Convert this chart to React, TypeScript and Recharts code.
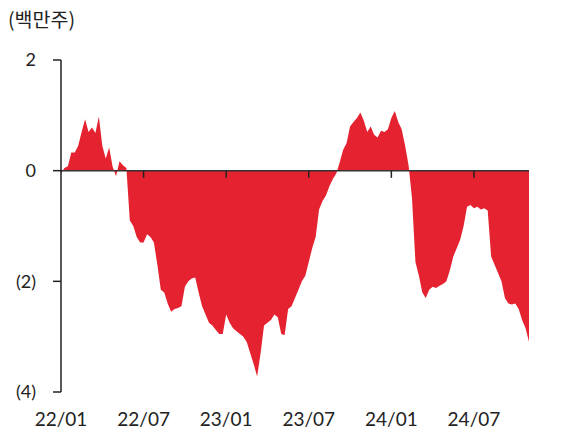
import React from "react";
import { AreaChart, Area, XAxis, YAxis, ReferenceLine } from "recharts";

// weekly net position, millions of shares, from 22/01
const weeklyValues = [
  -0.05, 0.05, 0.08, 0.33, 0.33, 0.45, 0.7, 0.93, 0.7, 0.78,
  0.68, 0.98, 0.45, 0.22, 0.42, 0.07, -0.1, 0.17, 0.1, 0.05,
  -0.9, -1.0, -1.2, -1.3, -1.3, -1.15, -1.2, -1.3, -1.7, -2.15,
  -2.2, -2.4, -2.55, -2.5, -2.48, -2.45, -2.1, -2.0, -1.95, -1.93,
  -2.2, -2.45, -2.6, -2.75, -2.8, -2.88, -2.95, -2.95, -2.6, -2.75,
  -2.85, -2.9, -2.95, -3.0, -3.1, -3.3, -3.5, -3.72, -3.3, -2.8,
  -2.75, -2.7, -2.6, -2.65, -2.95, -2.97, -2.5, -2.45, -2.3, -2.15,
  -2.0, -1.9, -1.65, -1.4, -1.2, -0.7, -0.55, -0.45, -0.28, -0.15,
  -0.05, 0.15, 0.38, 0.5, 0.8, 0.88, 0.95, 1.05, 0.9, 0.7,
  0.8, 0.65, 0.6, 0.72, 0.7, 0.75, 0.95, 1.08, 0.88, 0.75,
  0.45, 0.1, -0.5, -1.65, -1.9, -2.2, -2.3, -2.15, -2.1, -2.12,
  -2.08, -2.05, -2.0, -1.8, -1.55, -1.4, -1.25, -1.0, -0.65, -0.62,
  -0.68, -0.65, -0.7, -0.68, -0.72, -1.55, -1.7, -1.85, -2.0, -2.3,
  -2.4, -2.42, -2.4, -2.5, -2.7, -2.85, -3.09,
];

const monthsPerWeek = 0.25;
const xTicks = [0, 6, 12, 18, 24, 30];
const xTickLabels = ["22/01", "22/07", "23/01", "23/07", "24/01", "24/07"];
const yTicks = [2, 0, -2, -4];

const data = weeklyValues.map((v, i) => ({ m: i * monthsPerWeek, v }));

const RED = "#E5222F";
const AXIS = "#222";
const FONT = "Lato, 'Noto Sans', sans-serif";

const fmtY = (v: number) => (v < 0 ? `(${-v})` : `${v}`);

export default function App() {
  return (
    <div style={{ position: "absolute", left: 0, top: 0, width: 572, height: 434, background: "#fff" }}>
      <div
        style={{
          position: "absolute",
          left: 8,
          top: 8,
          fontFamily: "'Noto Sans CJK KR', 'Noto Sans', sans-serif",
          fontSize: 19.5,
          lineHeight: "22px",
          color: "#222",
        }}
      >
        (백만주)
      </div>
      <AreaChart
        width={572}
        height={434}
        data={data}
        margin={{ top: 60, right: 43, bottom: 0, left: 0 }}
      >
        <XAxis
          dataKey="m"
          type="number"
          domain={[0, 34]}
          ticks={xTicks}
          tickFormatter={(v: number) => xTickLabels[xTicks.indexOf(v)] ?? ""}
          axisLine={false}
          tickLine={false}
          tickSize={0}
          tickMargin={21}
          height={42}
          tick={{ fill: "#222", fontSize: 19, fontFamily: FONT }}
        />
        <YAxis
          domain={[-4, 2]}
          ticks={yTicks}
          tickFormatter={fmtY}
          width={61}
          axisLine={{ stroke: AXIS, strokeWidth: 1.5 }}
          tickLine={{ stroke: AXIS, strokeWidth: 1.5 }}
          tickSize={8}
          tickMargin={17}
          tick={{ fill: "#222", fontSize: 18, fontFamily: FONT }}
        />
        <Area
          type="linear"
          dataKey="v"
          baseValue={0}
          stroke="none"
          fill={RED}
          fillOpacity={1}
          isAnimationActive={false}
        />
        <ReferenceLine y={0} stroke="#333" strokeWidth={1.5} />
        {xTicks.slice(1).map((t) => (
          <ReferenceLine
            key={t}
            segment={[
              { x: t, y: 0 },
              { x: t, y: -0.13 },
            ]}
            stroke={AXIS}
            strokeWidth={1.5}
          />
        ))}
      </AreaChart>
    </div>
  );
}
